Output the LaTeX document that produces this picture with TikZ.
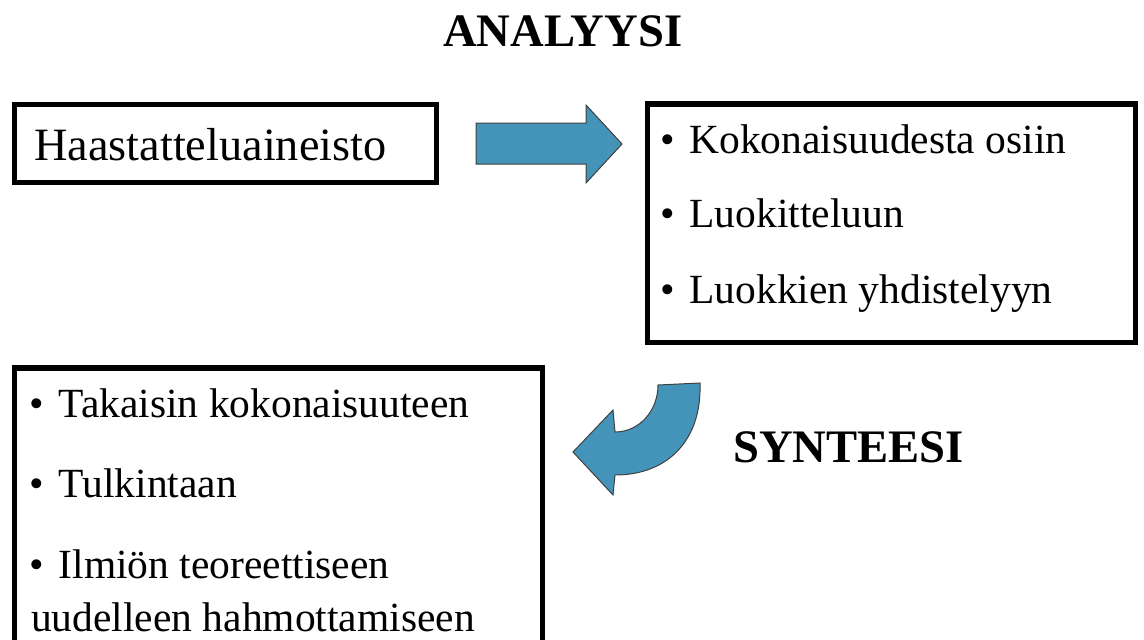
\documentclass[tikz,border=0pt]{standalone}
\usepackage{fontspec}
\setmainfont{Liberation Serif}
\definecolor{arrowblue}{RGB}{68,148,186}
\newcommand{\bulletitem}{\makebox[29pt][l]{\textbullet}}
\tikzset{
  frame/.style={draw=black, line width=5.5pt, rectangle, inner sep=0pt, anchor=center},
  txt/.style={anchor=base west, inner sep=0pt, font=\fontsize{46.3}{53}\selectfont},
  item/.style={anchor=base west, inner sep=0pt, font=\fontsize{41.5}{53}\selectfont},
  heading/.style={anchor=base west, inner sep=0pt, font=\fontsize{46.6}{53}\selectfont\bfseries},
  blockarrow/.style={fill=arrowblue, draw=black!75, line width=1pt, line join=miter}
}
\begin{document}
\begin{tikzpicture}[x=1pt, y=-1pt]
  \useasboundingbox (0,0) rectangle (1144,640);
  \clip (0,0) rectangle (1144,640);

  % headings
  \node[heading] (analyysi) at (443,46) {ANALYYSI};
  \node[heading] (synteesi) at (733,462) {SYNTEESI};

  % frames
  \node[frame, minimum width=422pt, minimum height=78pt] (data) at (225.5,143.5) {};
  \node[frame, minimum width=488pt, minimum height=238.5pt] (analysis) at (891.5,223.25) {};
  \node[frame, minimum width=528pt, minimum height=332pt] (synthesis) at (278.5,534) {};

  % texts
  \node[txt] (t0) at (34,160) {Haastatteluaineisto};
  \node[item] (a1) at (660.3,153) {\bulletitem Kokonaisuudesta osiin};
  \node[item] (a2) at (660.3,227) {\bulletitem Luokitteluun};
  \node[item] (a3) at (660.3,303) {\bulletitem Luokkien yhdistelyyn};
  \node[item] (s1) at (29.5,417) {\bulletitem Takaisin kokonaisuuteen};
  \node[item] (s2) at (29.5,497) {\bulletitem Tulkintaan};
  \node[item] (s3) at (29.5,578) {\bulletitem Ilmiön teoreettiseen};
  \node[item] (s4) at (31,631) {uudelleen hahmottamiseen};

  % straight block arrow
  \draw[blockarrow] (476,123) -- (586,123) -- (586,105) -- (622,144)
    -- (586,183) -- (586,164) -- (476,164) -- cycle;

  % curved block arrow
  \draw[blockarrow] (658,385) -- (700,383)
    .. controls (702,440) and (668,475) .. (615,475)
    -- (613,495) -- (573,452) -- (613,410) -- (615,432)
    .. controls (639,432) and (658,411) .. (658,385) -- cycle;
\end{tikzpicture}
\end{document}
